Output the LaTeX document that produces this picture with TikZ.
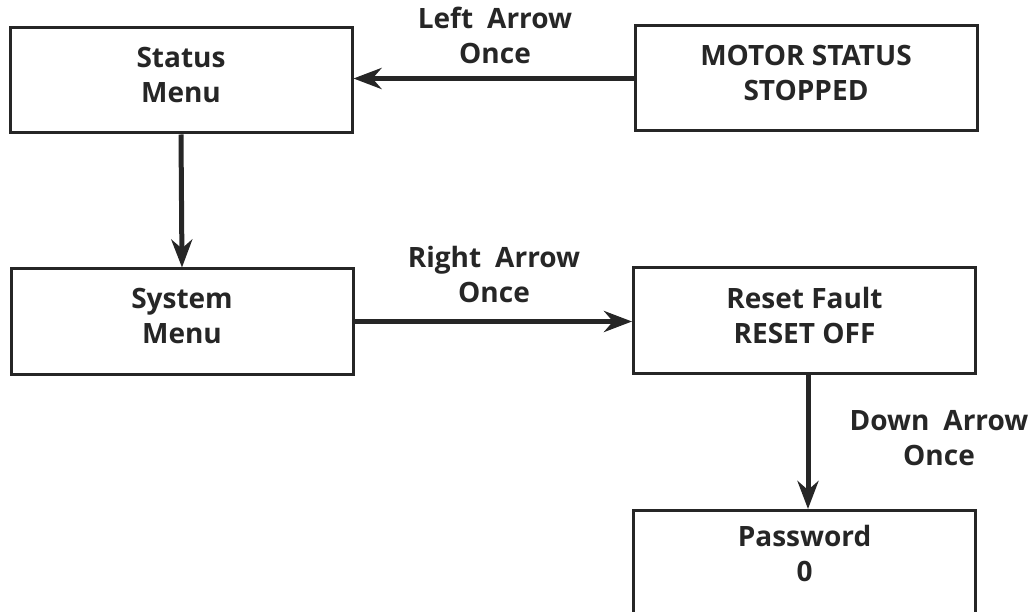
\documentclass[tikz,border=0pt]{standalone}
\usepackage{fontspec}
\setmainfont{Open Sans}
\usetikzlibrary{arrows.meta}

\begin{document}
\begin{tikzpicture}[x=1pt, y=-1pt,
    menubox/.style={draw=black!85, line width=3pt, minimum width=342pt,
        minimum height=105pt, inner sep=0pt, align=center, text depth=11pt},
    keylabel/.style={align=center, inner sep=0pt},
    keyarrow/.style={draw=black!85, line width=5pt,
        -{Stealth[length=28pt, width=21pt, inset=9pt]}},
    every node/.style={font=\fontsize{28}{35}\selectfont\bfseries, text=black!85}]
\useasboundingbox (0, 0) rectangle (1036, 612);
\clip (0, 0) rectangle (1036, 612);

% Draw menu boxes.
\node[menubox] (status) at (181, 80.5) {Status\\Menu};
\node[menubox] (motor) at (806, 78.5) {MOTOR STATUS\\STOPPED};
\node[menubox] (system) at (182, 321.5) {System\\Menu};
\node[menubox] (reset) at (804.5, 320.5) {Reset Fault\\RESET OFF};
\node[menubox, anchor=north, text depth=20pt] (password) at (804.5, 509) {Password\\0};

% Draw key presses.
\draw[keyarrow] (motor.west) -- (motor.west -| status.east);
\draw[keyarrow] (status.south) -- (system.north);
\draw[keyarrow] (system.east) -- (system.east -| reset.west);
\draw[keyarrow] ([xshift=3.5pt]reset.south) -- ([xshift=3.5pt]password.north);

% Draw key labels.
\node[keylabel] (leftkey) at (495, 35) {Left\hspace{0.5em}Arrow\\Once};
\node[keylabel] (rightkey) at (494, 274) {Right\hspace{0.5em}Arrow\\Once};
\node[keylabel] (downkey) at (939, 438) {Down\hspace{0.5em}Arrow\\Once};

\end{tikzpicture}
\end{document}
